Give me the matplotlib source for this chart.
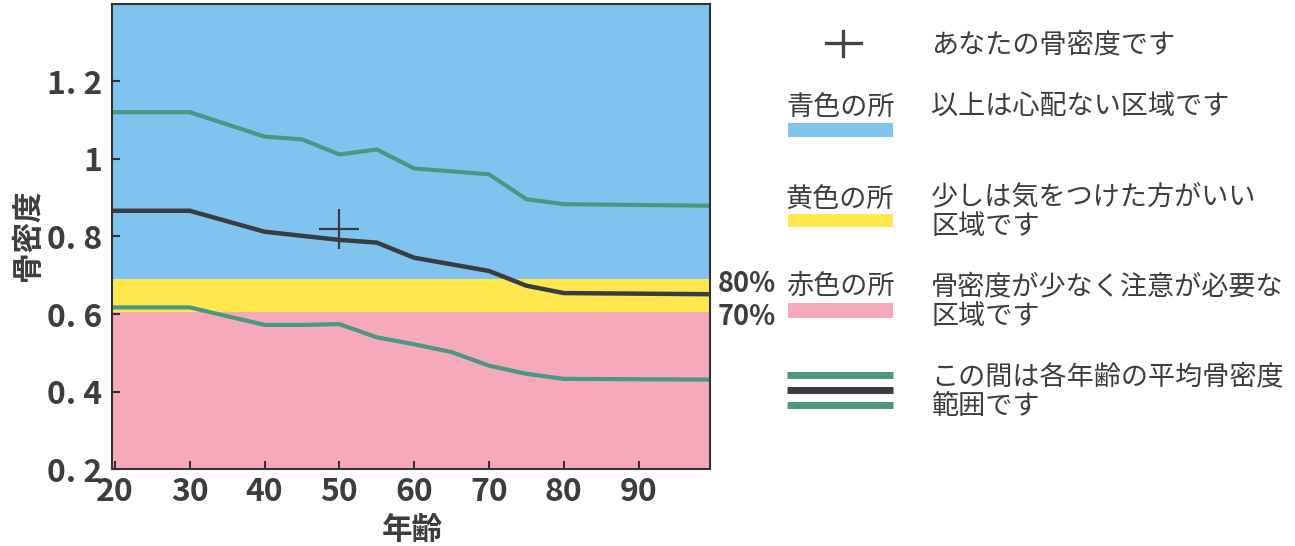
import matplotlib
matplotlib.use("Agg")
import matplotlib.pyplot as plt
from matplotlib.lines import Line2D
from matplotlib.patches import Rectangle

plt.rcParams['font.family'] = ['Noto Sans CJK JP', 'DejaVu Sans']

# --- data ---
upper_ages = [20, 30, 40, 45, 50, 55, 60, 70, 75, 80, 100]
upper_vals = [1.120, 1.120, 1.057, 1.050, 1.011, 1.024, 0.975, 0.960, 0.896, 0.883, 0.879]

mean_ages = [20, 30, 40, 50, 55, 60, 70, 75, 80, 100]
mean_vals = [0.866, 0.866, 0.812, 0.791, 0.784, 0.745, 0.711, 0.673, 0.654, 0.651]

lower_ages = [20, 30, 40, 45, 50, 55, 60, 65, 70, 75, 80, 100]
lower_vals = [0.617, 0.617, 0.572, 0.572, 0.574, 0.540, 0.522, 0.502, 0.467, 0.446, 0.433, 0.431]

# zone limits: 70% and 80% of the young adult mean
zone_edges = [0.2, 0.604, 0.690, 1.4]
zone_colors = ['#F5A9B9', '#FFE84E', '#7FC4EE']

you_age = 50
you_bmd = 0.818

xtick_vals = [20, 30, 40, 50, 60, 70, 80, 90]
ytick_vals = [0.2, 0.4, 0.6, 0.8, 1.0, 1.2]
ytick_labels = ['0. 2', '0. 4', '0. 6', '0. 8', '1', '1. 2']

GREEN = '#4B9882'
DARK = '#3B3B42'
TEXT = '#3D3D3D'

W, H = 1295, 546
fig = plt.figure(figsize=(W / 100, H / 100), dpi=100)
ax = fig.add_axes([112 / W, 1 - 469.3 / H, 598 / W, 465.8 / H])

for lo, hi, c in zip(zone_edges[:-1], zone_edges[1:], zone_colors):
    ax.axhspan(lo, hi, color=c, lw=0, zorder=0)

ax.plot(upper_ages, upper_vals, color=GREEN, lw=3, solid_joinstyle='round', zorder=2)
ax.plot(lower_ages, lower_vals, color=GREEN, lw=3, solid_joinstyle='round', zorder=2)
ax.plot(mean_ages, mean_vals, color=DARK, lw=3.2, solid_joinstyle='round', zorder=3)
ax.plot([you_age], [you_bmd], marker='+', ms=29, mew=1.6, color=DARK, zorder=4)

ax.set_xlim(19.6, 99.55)
ax.set_ylim(0.2, 1.4)
ax.set_xticks(xtick_vals)
ax.set_xticklabels([str(v) for v in xtick_vals], fontweight='bold')
ax.set_yticks(ytick_vals)
ax.set_yticklabels(ytick_labels, fontweight='bold')
ax.tick_params(direction='in', length=6, width=1.5, color='#333333',
               labelsize=23, labelcolor=TEXT)
ax.tick_params(axis='y', pad=7)
ax.tick_params(axis='x', pad=5)
for s in ax.spines.values():
    s.set_linewidth(1.5)
    s.set_color('#333333')

ax.text(-0.14, 0.503, '骨密度', transform=ax.transAxes, rotation=90,
        ha='center', va='center', fontsize=22, fontweight='bold', color=TEXT)
ax.text(0.502, -0.13, '年齢', transform=ax.transAxes,
        ha='center', va='center', fontsize=22, fontweight='bold', color=TEXT)

# --- legend on the right, in pixel coordinates ---
lg = fig.add_axes([0, 0, 1, 1], facecolor='none')
lg.set_xlim(0, W)
lg.set_ylim(H, 0)
lg.axis('off')

lg.add_line(Line2D([826, 861], [43, 43], color='#444444', lw=2.4))
lg.add_line(Line2D([843, 843], [31, 56], color='#444444', lw=2.4))

fs = 19.5
lg.text(931, 45, 'あなたの骨密度です', fontsize=fs, color=TEXT, va='center')

lg.text(786, 107, '青色の所', fontsize=fs, color=TEXT, va='center')
lg.add_patch(Rectangle((788, 123), 105, 14, color=zone_colors[2], lw=0))
lg.text(931, 107, '以上は心配ない区域です', fontsize=fs, color=TEXT, va='center')

lg.text(786, 199, '黄色の所', fontsize=fs, color=TEXT, va='center')
lg.add_patch(Rectangle((788, 214), 105, 13, color=zone_colors[1], lw=0))
lg.text(931, 197, '少しは気をつけた方がいい', fontsize=fs, color=TEXT, va='center')
lg.text(931, 227, '区域です', fontsize=fs, color=TEXT, va='center')

lg.text(747, 284, '80%', fontsize=19.5, fontweight='bold', color=TEXT, ha='center', va='center')
lg.text(747, 317, '70%', fontsize=19.5, fontweight='bold', color=TEXT, ha='center', va='center')

lg.text(786, 286, '赤色の所', fontsize=fs, color=TEXT, va='center')
lg.add_patch(Rectangle((788, 303), 105, 15, color=zone_colors[0], lw=0))
lg.text(931, 287, '骨密度が少なく注意が必要な', fontsize=fs, color=TEXT, va='center')
lg.text(931, 316, '区域です', fontsize=fs, color=TEXT, va='center')

lg.add_line(Line2D([787, 893], [374.5, 374.5], color=GREEN, lw=5, solid_capstyle='butt'))
lg.add_line(Line2D([787, 893], [390, 390], color=DARK, lw=5, solid_capstyle='butt'))
lg.add_line(Line2D([787, 893], [405, 405], color=GREEN, lw=5, solid_capstyle='butt'))
lg.text(931, 377, 'この間は各年齢の平均骨密度', fontsize=fs, color=TEXT, va='center')
lg.text(931, 406, '範囲です', fontsize=fs, color=TEXT, va='center')

fig.savefig('out.png', dpi=100)
